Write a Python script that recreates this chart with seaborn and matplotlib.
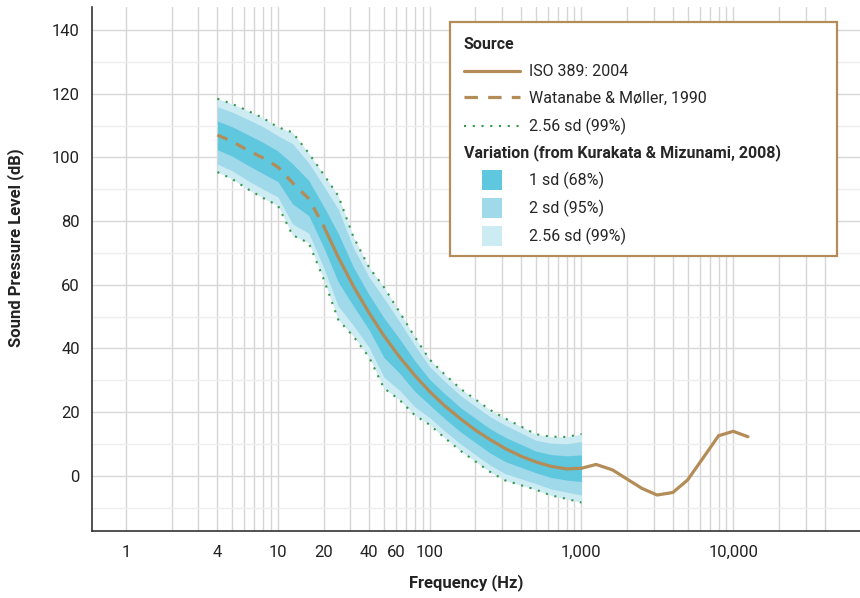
import matplotlib
matplotlib.use("Agg")
import matplotlib.pyplot as plt
import seaborn as sns
import numpy as np
from matplotlib.lines import Line2D
from matplotlib.patches import Rectangle
from matplotlib.ticker import FixedLocator, MultipleLocator, NullFormatter

""" Hearing threshold curves with spread of low-frequency thresholds """

# ISO 389: 2004 reference threshold (solid)
iso_freq = [20, 25, 31.5, 40, 50, 63, 80, 100, 125, 160, 200, 250, 315, 400, 500,
            630, 800, 1000, 1250, 1600, 2000, 2500, 3150, 4000, 5000, 6300, 8000,
            10000, 12500]
iso_spl = [78.5, 68.7, 59.5, 51.1, 44.0, 37.5, 31.5, 26.5, 22.1, 17.9, 14.4, 11.4,
           8.6, 6.2, 4.4, 3.0, 2.2, 2.4, 3.6, 1.9, -1.0, -3.9, -6.0, -5.2, -1.3,
           5.5, 12.6, 14.0, 12.3]

# Watanabe & Moller, 1990 (dashed, below 20 Hz)
wm_freq = [4, 5, 6.3, 8, 10, 12.5, 16, 20]
wm_spl = [107.0, 105.0, 102.3, 99.8, 97.0, 92.0, 87.0, 78.5]

# Kurakata & Mizunami, 2008: mean and standard deviation
km_freq = [4, 5, 6.3, 8, 10, 12.5, 16, 20, 25, 31.5, 40, 50, 63, 80, 100, 125, 160,
           200, 250, 315, 400, 500, 630, 800, 1000]
km_mean = [106.9, 105.0, 102.4, 99.8, 97.2, 91.7, 87.2, 78.3, 68.5, 59.4, 51.3, 43.4,
           37.8, 31.3, 26.3, 22.0, 17.6, 14.3, 11.0, 8.3, 6.3, 4.4, 3.1, 2.5, 2.4]
km_sd = [4.5, 4.6, 4.8, 4.9, 4.8, 6.3, 5.5, 6.4, 7.6, 6.1, 5.5, 6.2, 5.4, 4.8, 4.0,
         3.9, 3.8, 3.8, 3.8, 3.8, 3.6, 3.4, 3.6, 3.8, 4.2]

band_k = [2.56, 2.0, 1.0]
band_labels = ["2.56 sd (99%)", "2 sd (95%)", "1 sd (68%)"]
band_colors = ["#cdebf3", "#9fd9ea", "#5fc7de"]

x_tick_labels = {1: "1", 4: "4", 10: "10", 20: "20", 40: "40", 60: "60",
                 100: "100", 1000: "1,000", 10000: "10,000"}

TAN = "#b38c57"
GREEN = "#35994b"
SPINE = "#333333"
FS = 11.5

sns.set_theme(style="white")
plt.rcParams["font.family"] = ["Roboto", "DejaVu Sans"]

fig = plt.figure(figsize=(8.6, 5.98), dpi=100)
ax = fig.add_axes([0.1066, 0.1120, 0.8934, 0.8763])
ax.set_xscale("log")

# Variation bands, widest first
mean = np.array(km_mean)
sd = np.array(km_sd)
for k, col in zip(band_k, band_colors):
    ax.fill_between(km_freq, mean - k * sd, mean + k * sd, color=col, lw=0, zorder=2)

# 2.56 sd bounds as dotted lines
for sign in (1, -1):
    sns.lineplot(x=km_freq, y=mean + sign * 2.56 * sd, ax=ax, color=GREEN,
                 lw=1.5, linestyle=(0, (1, 3.2)), zorder=3)

sns.lineplot(x=wm_freq, y=wm_spl, ax=ax, color=TAN, lw=2.3,
             linestyle=(0, (3.4, 3.0)), zorder=4)
sns.lineplot(x=iso_freq, y=iso_spl, ax=ax, color=TAN, lw=2.3, zorder=4)

# Axes limits and ticks
ax.set_xlim(0.594, 68400)
ax.set_ylim(-17.3, 147.2)

xticks = [m * 10 ** e for e in range(0, 5) for m in range(1, 10) if m * 10 ** e <= 40000]
ax.xaxis.set_major_locator(FixedLocator(xticks))
ax.set_xticks(xticks)
ax.set_xticklabels([x_tick_labels.get(int(round(t)), "") for t in xticks])
ax.xaxis.set_minor_formatter(NullFormatter())
ax.xaxis.set_minor_locator(FixedLocator([]))

ax.set_yticks(np.arange(0, 141, 20))
ax.yaxis.set_minor_locator(MultipleLocator(10))

ax.tick_params(axis="x", which="major", direction="out", length=7, width=1.1,
               color=SPINE, labelsize=FS + 0.5, pad=3, labelcolor="#222222")
ax.tick_params(axis="y", which="major", direction="in", length=5.5, width=1.1,
               color=SPINE, labelsize=FS + 0.5, pad=8.5, labelcolor="#222222")
ax.tick_params(axis="y", which="minor", length=0)

# Grid behind everything
ax.set_axisbelow(True)
ax.xaxis.grid(True, which="major", color="#d6d6d6", lw=1.0, zorder=0)
ax.yaxis.grid(True, which="major", color="#d8d8d8", lw=1.0, zorder=0)
ax.yaxis.grid(True, which="minor", color="#eeeeee", lw=1.0, zorder=0)

sns.despine(ax=ax, top=True, right=True)
for side in ("left", "bottom"):
    ax.spines[side].set_color(SPINE)
    ax.spines[side].set_linewidth(1.2)

ax.set_xlabel("Frequency (Hz)", fontsize=FS + 0.5, fontweight="bold", color="#222222")
ax.set_ylabel("Sound Pressure Level (dB)", fontsize=FS + 0.5, fontweight="bold", color="#222222")
ax.xaxis.set_label_coords(0.487, -0.082)
ax.yaxis.set_label_coords(-0.088, 0.540)

# Legend frame
frame = Rectangle((0.4664, 0.5248), 0.5037, 0.4466, transform=ax.transAxes,
                  facecolor="white", edgecolor=TAN, lw=1.6, zorder=6)
ax.add_patch(frame)

src_handles = [
    Line2D([], [], color=TAN, lw=2.3),
    Line2D([], [], color=TAN, lw=2.3, linestyle=(0, (4.2, 3.2))),
    Line2D([], [], color=GREEN, lw=1.5, linestyle=(0, (1, 3.2))),
]
src_labels = ["ISO 389: 2004", "Watanabe & M\u00f8ller, 1990", "2.56 sd (99%)"]
leg1 = ax.legend(src_handles, src_labels, title="Source", loc="upper left",
                 bbox_to_anchor=(0.4843, 0.9425), bbox_transform=ax.transAxes,
                 frameon=False, alignment="left", fontsize=FS,
                 title_fontproperties={"weight": "bold", "size": FS},
                 handlelength=3.5, handletextpad=0.6, labelspacing=0.75,
                 borderpad=0, borderaxespad=0)
leg1.set_zorder(7)
ax.add_artist(leg1)

var_handles = [Line2D([], [], marker="s", markersize=14.5, linestyle="",
                      color=c, markeredgewidth=0) for c in band_colors[::-1]]
leg2 = ax.legend(var_handles, band_labels[::-1],
                 title="Variation (from Kurakata & Mizunami, 2008)", loc="upper left",
                 bbox_to_anchor=(0.4843, 0.7385), bbox_transform=ax.transAxes,
                 frameon=False, alignment="left", fontsize=FS, numpoints=1,
                 title_fontproperties={"weight": "bold", "size": FS},
                 handlelength=3.5, handletextpad=0.6, labelspacing=0.68,
                 borderpad=0, borderaxespad=0)
leg2.set_zorder(7)

plt.savefig("out.png", dpi=100)
